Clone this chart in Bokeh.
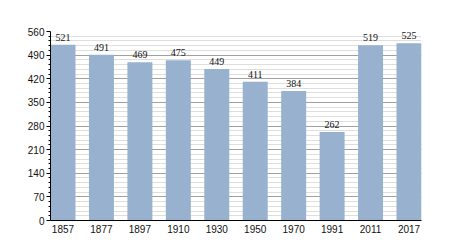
from bokeh.plotting import figure
from bokeh.models import Range1d, FixedTicker, ColumnDataSource, LabelSet
from bokeh.embed import file_html
from bokeh.resources import INLINE

years = ["1857", "1877", "1897", "1910", "1930", "1950", "1970", "1991", "2011", "2017"]
population = [521, 491, 469, 475, 449, 411, 384, 262, 519, 525]
y_ticks = [0, 70, 140, 210, 280, 350, 420, 490, 560]

idx = list(range(len(years)))
src = ColumnDataSource(dict(x=idx, top=population, lab=[str(v) for v in population]))

p = figure(width=450, height=250, output_backend="svg", toolbar_location=None,
           x_range=Range1d(-0.325, len(years) - 1 + 0.325), y_range=Range1d(0, 560),
           min_border_left=50, min_border_right=29, min_border_top=31, min_border_bottom=30)
p.outline_line_color = None
p.background_fill_color = "white"
p.border_fill_color = "white"

p.vbar(x="x", top="top", width=0.65, bottom=0, source=src, color="#97b1cf", line_color=None)

labels = LabelSet(x="x", y="top", text="lab", source=src, text_align="center",
                  text_baseline="bottom", y_offset=4, text_font_size="10px",
                  text_font="Liberation Sans", text_color="#111111")
p.add_layout(labels)

minor = [v for v in range(0, 561, 14) if v % 70 != 0]
p.yaxis.ticker = FixedTicker(ticks=y_ticks, minor_ticks=minor)
p.xaxis.ticker = FixedTicker(ticks=idx)
p.xaxis.major_label_overrides = {i: y for i, y in zip(idx, years)}

p.xgrid.visible = False
p.ygrid.grid_line_color = "#a0a0a0"
p.ygrid.grid_line_width = 1
p.ygrid.minor_grid_line_color = "#dedede"
p.ygrid.level = "underlay"

for ax in (p.xaxis, p.yaxis):
    ax.axis_line_color = "black"
    ax.major_label_text_font = "Liberation Sans"
    ax.major_label_text_font_size = "10px"
    ax.major_label_text_color = "#111111"

p.xaxis.major_tick_line_color = None
p.xaxis.minor_tick_line_color = None
p.xaxis.major_tick_out = 0
p.xaxis.major_tick_in = 0
p.xaxis.minor_tick_out = 0
p.xaxis.minor_tick_in = 0
p.xaxis.major_label_standoff = 4
p.yaxis.major_tick_out = 4
p.yaxis.major_tick_in = 0
p.yaxis.minor_tick_out = 2
p.yaxis.minor_tick_in = 0
p.yaxis.major_tick_line_color = "black"
p.yaxis.minor_tick_line_color = "black"
p.yaxis.major_label_standoff = 2

open("out.html", "w").write(file_html(p, INLINE))
